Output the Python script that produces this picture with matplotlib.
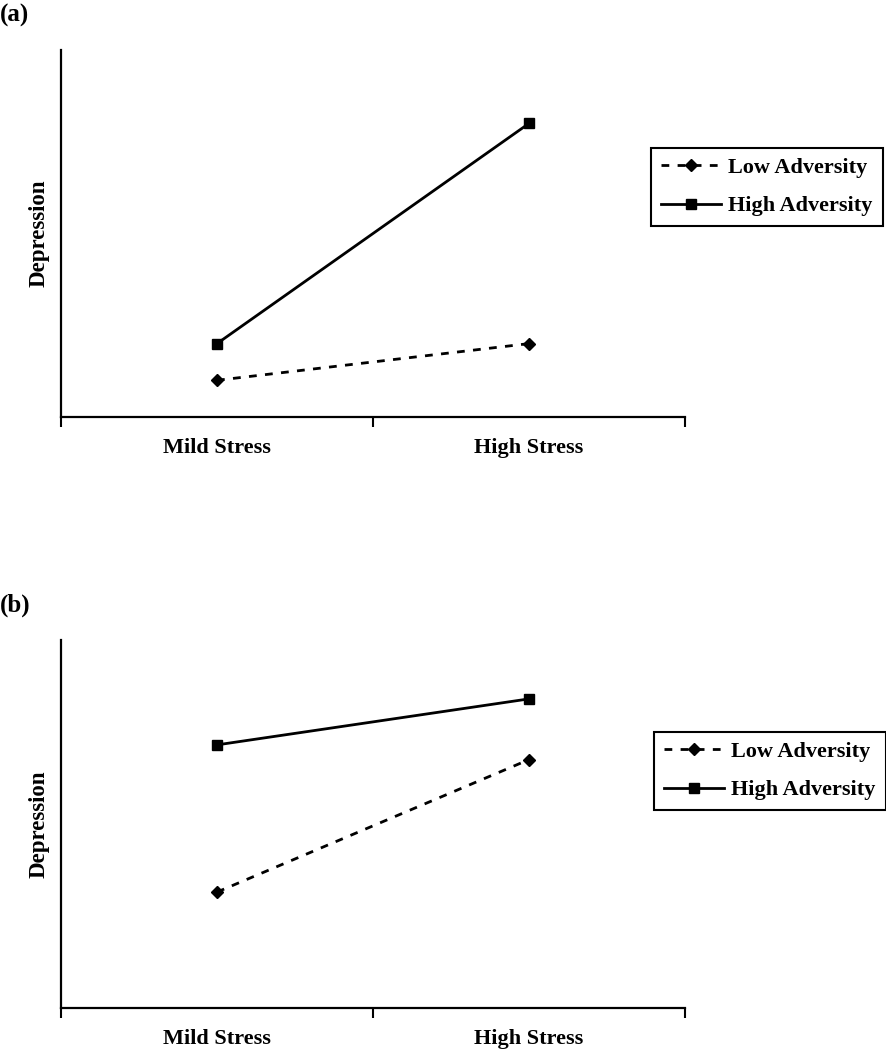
import numpy as np
import matplotlib
matplotlib.use("Agg")
import matplotlib.pyplot as plt

plt.rcParams["font.family"] = ["Liberation Serif", "DejaVu Serif"]
plt.rcParams["font.weight"] = "bold"

# ======================================================
# DATA (arbitrary depression scale, 0-10)
# ======================================================

stress_labels = ["Mild Stress", "High Stress"]
series_labels = ["Low Adversity", "High Adversity"]

low_a = [1.0, 2.0]
high_a = [2.0, 8.0]

low_b = [3.15, 6.75]
high_b = [7.15, 8.4]

panels = [
    ("(a)", low_a, high_a),
    ("(b)", low_b, high_b),
]

# ======================================================
# FIGURE
# ======================================================

W, H = 886, 1050
fig = plt.figure(figsize=(W / 100, H / 100), dpi=100)

ax_boxes = [
    [61 / W, 1 - 417 / H, 624 / W, 367 / H],
    [61 / W, 1 - 1008 / H, 624 / W, 368 / H],
]
legend_centers = [(767 / W, 1 - 187 / H), (770 / W, 1 - 771 / H)]
tag_y = [1 - 15 / H, 1 - 605 / H]

x = np.array([0.5, 1.5])

for i, (tag, low, high) in enumerate(panels):

    ax = fig.add_axes(ax_boxes[i])

    ax.plot(
        x, low,
        color="black",
        linewidth=2.0,
        dashes=(2.8, 3.0),
        marker="D",
        markersize=6,
        label=series_labels[0]
    )

    ax.plot(
        x, high,
        color="black",
        linewidth=2.0,
        marker="s",
        markersize=6.5,
        label=series_labels[1]
    )

    ax.set_xlim(0, 2)
    ax.set_ylim(0, 10)

    for s in ["top", "right"]:
        ax.spines[s].set_visible(False)
    for s in ["left", "bottom"]:
        ax.spines[s].set_linewidth(1.6)

    ax.set_yticks([])
    ax.set_xticks([0, 1, 2])
    ax.set_xticklabels([])
    ax.tick_params(axis="x", which="major", length=7, width=1.5, direction="out")

    ax.set_xticks(x, minor=True)
    ax.set_xticklabels(stress_labels, minor=True, fontsize=16, fontweight="bold")
    ax.tick_params(axis="x", which="minor", length=0, pad=15)

    ax.set_ylabel("Depression", fontsize=16.5, fontweight="bold", labelpad=8)

    leg = ax.legend(
        loc="center",
        bbox_to_anchor=legend_centers[i],
        bbox_transform=fig.transFigure,
        fancybox=False,
        edgecolor="black",
        framealpha=1,
        handlelength=2.7,
        handletextpad=0.3,
        borderpad=0.45,
        labelspacing=0.8,
        prop={"size": 16, "weight": "bold"}
    )
    leg.get_frame().set_linewidth(1.5)

    fig.text(0.0, tag_y[i], tag, fontsize=18, fontweight="bold",
             ha="left", va="center")

fig.savefig("out.png", dpi=100)
